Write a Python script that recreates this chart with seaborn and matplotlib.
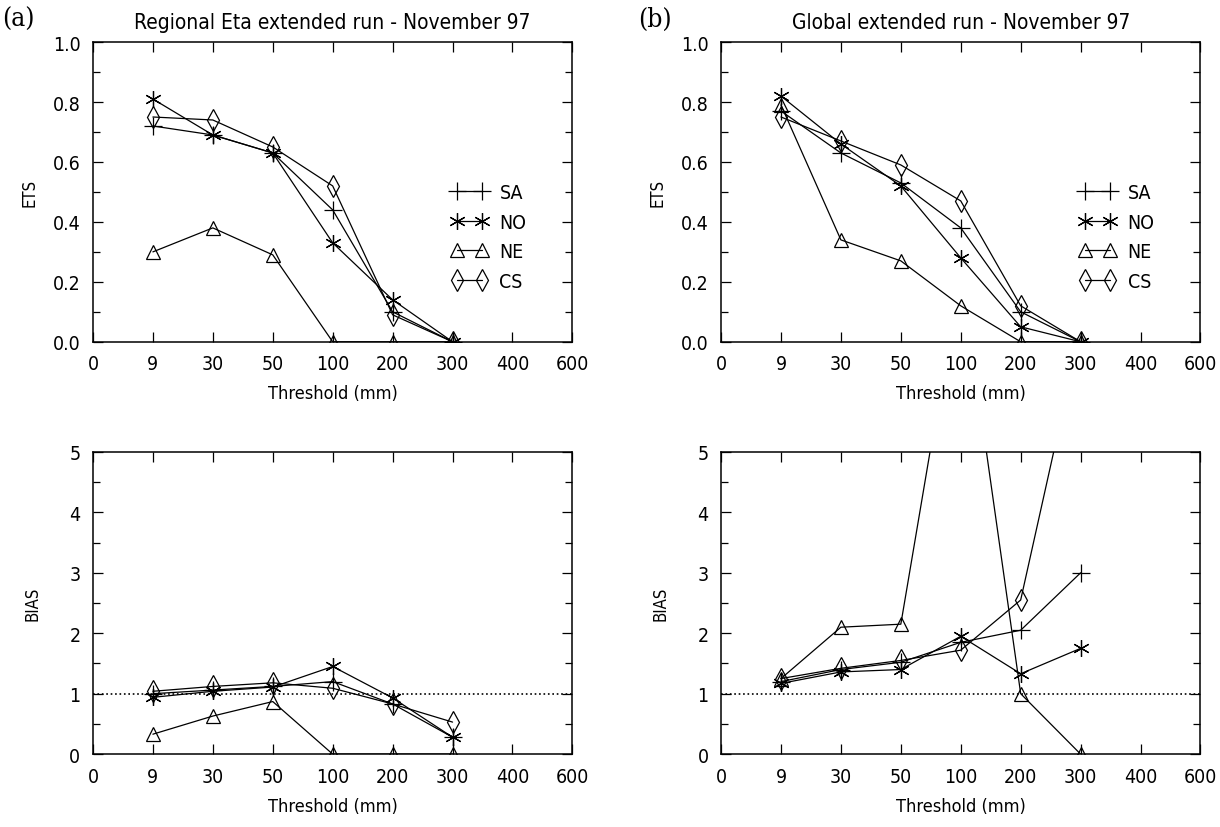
import numpy as np
import pandas as pd
import matplotlib
matplotlib.use('Agg')
import matplotlib.pyplot as plt
from matplotlib.ticker import MultipleLocator, FormatStrFormatter
import seaborn as sns

# tick labels of the (categorical) threshold axis
tick_labels = ['0', '9', '30', '50', '100', '200', '300', '400', '600']
thresholds = ['9', '30', '50', '100', '200', '300']
regions = ['SA', 'NO', 'NE', 'CS']

# (a) Regional Eta extended run - ETS
eta_ets_sa = [0.72, 0.69, 0.63, 0.44, 0.10, 0.0]
eta_ets_no = [0.81, 0.69, 0.63, 0.33, 0.14, 0.0]
eta_ets_ne = [0.30, 0.38, 0.29, 0.0, 0.0, 0.0]
eta_ets_cs = [0.75, 0.74, 0.65, 0.52, 0.09, 0.0]

# (a) Regional Eta extended run - BIAS
eta_bias_sa = [1.00, 1.06, 1.12, 1.20, 0.83, 0.28]
eta_bias_no = [0.94, 1.04, 1.11, 1.45, 0.93, 0.28]
eta_bias_ne = [0.33, 0.63, 0.87, 0.0, 0.0, 0.0]
eta_bias_cs = [1.04, 1.12, 1.18, 1.09, 0.83, 0.53]

# (b) Global extended run - ETS
glb_ets_sa = [0.77, 0.63, 0.53, 0.38, 0.10, 0.0]
glb_ets_no = [0.82, 0.66, 0.52, 0.28, 0.05, 0.0]
glb_ets_ne = [0.79, 0.34, 0.27, 0.12, 0.0, 0.0]
glb_ets_cs = [0.75, 0.67, 0.59, 0.47, 0.12, 0.0]

# (b) Global extended run - BIAS
glb_bias_sa = [1.20, 1.40, 1.52, 1.85, 2.05, 3.00]
glb_bias_no = [1.17, 1.36, 1.40, 1.95, 1.33, 1.75]
glb_bias_ne = [1.25, 2.10, 2.15, 8.00, 1.00, 0.0]
glb_bias_cs = [1.25, 1.42, 1.55, 1.72, 2.55, 7.00]

sns.set_style('ticks', {'axes.edgecolor': 'black', 'text.color': 'black',
                        'axes.labelcolor': 'black', 'xtick.color': 'black',
                        'ytick.color': 'black'})
plt.rcParams['font.family'] = ['DejaVu Sans']
plt.rcParams['font.stretch'] = 'condensed'

markers = {'SA': '+', 'NO': (6, 2, 0), 'NE': '^', 'CS': 'd'}
msizes = {'SA': 13, 'NO': 12, 'NE': 10, 'CS': 11}


def long_table(series):
    rows = []
    for reg, vals in zip(regions, series):
        for t, v in zip(thresholds, vals):
            rows.append({'region': reg, 'pos': tick_labels.index(t), 'value': v})
    return pd.DataFrame(rows)


def draw(ax, series, kind, title=None, legend=False):
    df = long_table(series)
    for reg in regions:
        sub = df[df['region'] == reg]
        sns.lineplot(data=sub, x='pos', y='value', ax=ax, color='black',
                     marker=markers[reg], markersize=msizes[reg], mfc='none',
                     mec='black', mew=0.9, lw=0.9, errorbar=None, label=reg,
                     legend=False)
    ax.set_xlim(0, 8)
    ax.set_xticks(range(len(tick_labels)))
    ax.set_xticklabels(tick_labels)
    if kind == 'ETS':
        ax.set_ylim(0, 1.0)
        ax.yaxis.set_major_locator(MultipleLocator(0.2))
        ax.yaxis.set_minor_locator(MultipleLocator(0.1))
        ax.yaxis.set_major_formatter(FormatStrFormatter('%.1f'))
    else:
        ax.set_ylim(0, 5)
        ax.yaxis.set_major_locator(MultipleLocator(1))
        ax.yaxis.set_minor_locator(MultipleLocator(0.5))
        ax.axhline(1, color='black', ls=':', lw=1.2)
    ax.set_ylabel(kind, fontsize=12, labelpad=10 if kind == 'ETS' else 20)
    ax.set_xlabel('Threshold (mm)', fontsize=13, labelpad=8)
    ax.tick_params(which='both', direction='in', top=True, right=True,
                   labelsize=14, width=0.9)
    ax.tick_params(which='major', length=7, pad=9)
    ax.tick_params(which='minor', length=5)
    ax.tick_params(axis='x', which='minor', top=False, bottom=False)
    for s in ax.spines.values():
        s.set_linewidth(1.1)
    if title:
        ax.set_title(title, fontsize=15, pad=10)
    if legend:
        ax.legend(loc='center left', bbox_to_anchor=(0.71, 0.35), frameon=False,
                  numpoints=2, handlelength=1.9, fontsize=14, labelspacing=0.55,
                  handletextpad=0.6)


fig = plt.figure(figsize=(12.2, 8.28), dpi=100)
ax_tl = fig.add_axes([0.0762, 0.586, 0.393, 0.362])
ax_tr = fig.add_axes([0.591, 0.586, 0.393, 0.362])
ax_bl = fig.add_axes([0.0762, 0.088, 0.393, 0.365])
ax_br = fig.add_axes([0.591, 0.088, 0.393, 0.365])

draw(ax_tl, [eta_ets_sa, eta_ets_no, eta_ets_ne, eta_ets_cs], 'ETS',
     title='Regional Eta extended run - November 97', legend=True)
draw(ax_tr, [glb_ets_sa, glb_ets_no, glb_ets_ne, glb_ets_cs], 'ETS',
     title='Global extended run - November 97', legend=True)
draw(ax_bl, [eta_bias_sa, eta_bias_no, eta_bias_ne, eta_bias_cs], 'BIAS')
draw(ax_br, [glb_bias_sa, glb_bias_no, glb_bias_ne, glb_bias_cs], 'BIAS')

fig.text(0.002, 0.968, '(a)', fontsize=19, family='DejaVu Serif')
fig.text(0.523, 0.968, '(b)', fontsize=19, family='DejaVu Serif')

fig.savefig('out.png', dpi=100)
